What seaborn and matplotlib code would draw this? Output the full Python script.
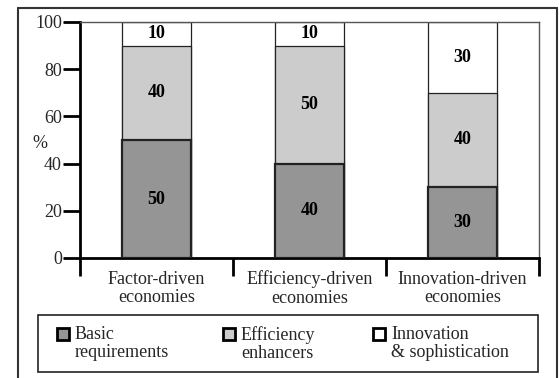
import matplotlib
matplotlib.use("Agg")
import matplotlib.pyplot as plt
import seaborn as sns
import numpy as np
from matplotlib.patches import Rectangle
from matplotlib.lines import Line2D

categories = ["Factor-driven\neconomies", "Efficiency-driven\neconomies", "Innovation-driven\neconomies"]
basic = [50, 40, 30]
efficiency = [40, 50, 40]
innovation = [10, 10, 30]
series_names = ["Basic\nrequirements", "Efficiency\nenhancers", "Innovation\n& sophistication"]
yticks = [0, 20, 40, 60, 80, 100]

colors = ["#959595", "#cccccc", "#ffffff"]
FS = 13

sns.set_theme(style="white")
plt.rcParams["font.family"] = ["Liberation Serif", "DejaVu Serif"]

W, H = 559, 378
fig = plt.figure(figsize=(W / 100, H / 100), dpi=100)
ax = fig.add_axes([80 / W, 1 - 258 / H, (539 - 80) / W, (258 - 22) / H])

b = np.array(basic, dtype=float)
e = np.array(efficiency, dtype=float)
i = np.array(innovation, dtype=float)
layers = [b, b + e, b + e + i]
values = [b, e, i]
bottoms = [np.zeros(3), b, b + e]

# draw top-most cumulative first
for k in [2, 1, 0]:
    sns.barplot(x=categories, y=layers[k], color=colors[k], saturation=1,
                width=0.45, edgecolor="#222222",
                linewidth=1.6 if k == 0 else 0.9, ax=ax, zorder=2 + (2 - k))

for k in range(3):
    for j in range(3):
        ax.text(j, bottoms[k][j] + values[k][j] / 2, f"{int(values[k][j])}",
                ha="center", va="center", fontsize=FS, fontweight="bold",
                color="black", zorder=10)

ax.set_xlim(-0.5, 2.5)
ax.set_ylim(0, 100)
ax.set_xlabel("")
ax.set_ylabel("")
ax.set_yticks(yticks)
ax.set_yticklabels([str(t) for t in yticks], fontsize=FS)
ax.tick_params(axis="y", which="major", direction="out", length=12, width=2,
               color="black", pad=1, left=True)
ax.set_xticks([-0.5, 0.5, 1.5, 2.5])
ax.set_xticklabels(["", "", "", ""])
ax.tick_params(axis="x", which="major", direction="out", length=13, width=2,
               color="black", bottom=True)
ax.set_xticks([0, 1, 2], minor=True)
ax.set_xticklabels(categories, minor=True, fontsize=FS, linespacing=1.1)
ax.tick_params(axis="x", which="minor", length=0, pad=9)

for s in ["left", "bottom"]:
    ax.spines[s].set_color("black")
    ax.spines[s].set_linewidth(2)
for s in ["top", "right"]:
    ax.spines[s].set_color("#555555")
    ax.spines[s].set_linewidth(1)
ax.grid(False)

fig.text(40 / W, 1 - 143 / H, "%", fontsize=FS, ha="center", va="center")

# outer frame
fc = "#333333"
fig.add_artist(Line2D([18 / W, 18 / W], [0, 1 - 8 / H], color=fc, lw=1.5, transform=fig.transFigure))
fig.add_artist(Line2D([18 / W, 557 / W], [1 - 8 / H, 1 - 8 / H], color=fc, lw=1.5, transform=fig.transFigure))
fig.add_artist(Line2D([557 / W, 557 / W], [0, 1 - 8 / H], color=fc, lw=1.5, transform=fig.transFigure))

# legend box
fig.add_artist(Rectangle((38 / W, 1 - 372 / H), (538 - 38) / W, (372 - 315) / H,
                         transform=fig.transFigure, facecolor="white",
                         edgecolor="#222222", lw=1.2))
xs = [57, 223, 373]
for k in range(3):
    fig.add_artist(Rectangle((xs[k] / W, 1 - 340 / H), 12 / W, 12 / H,
                             transform=fig.transFigure, facecolor=colors[k],
                             edgecolor="black", lw=2))
    fig.text((xs[k] + 18) / W, 1 - 326 / H, series_names[k], fontsize=FS,
             ha="left", va="top", linespacing=1.05)

fig.savefig("out.png", dpi=100)
